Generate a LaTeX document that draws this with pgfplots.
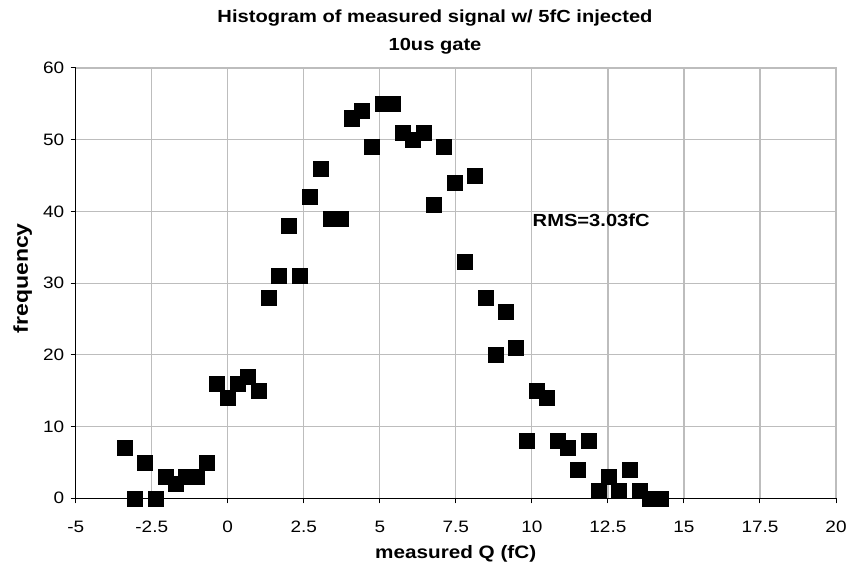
\documentclass[border=0pt]{standalone}
\usepackage{fontspec}
\setmainfont{Liberation Sans}
\newfontfamily\wfont[FakeStretch=1.15]{Liberation Sans}
\usepackage{pgfplots}
\pgfplotsset{compat=1.18}
\begin{document}
\begin{tikzpicture}
\useasboundingbox (-75.7pt,-74.7pt) rectangle (773.3pt,498.3pt);
\begin{axis}[
  scale only axis,
  width=760.3pt, height=430.3pt,
  at={(0,0)}, anchor=south west,
  xmin=-5, xmax=20, ymin=0, ymax=60,
  xtick={-5,-2.5,0,2.5,5,7.5,10,12.5,15,17.5,20},
  xticklabels={-5,-2.5,0,2.5,5,7.5,10,12.5,15,17.5,20},
  ytick={0,10,20,30,40,50,60},
  axis x line*=bottom, axis y line*=left,
  axis line style={black, line width=1pt, -},
  grid=major,
  major grid style={color=black!26, line width=1.2pt},
  tick style={black, line width=1pt},
  tick align=outside,
  major tick length=5pt,
  /pgf/number format/assume math mode=true,
  tick label style={font=\wfont\fontsize{16.5}{18}\selectfont},
  xticklabel style={yshift=-14pt},
  yticklabel style={xshift=-3pt},
  clip=false,
]
\draw[black!26, line width=1.2pt] (axis cs:-5,60) -- (axis cs:20,60) -- (axis cs:20,0);
\addplot[only marks, mark=square*, mark size=7.5pt,
  mark options={fill=black, draw=black, rounded corners=2pt}] coordinates {
(-3.40,7) (-3.06,0) (-2.72,5) (-2.38,0) (-2.04,3) (-1.71,2) (-1.37,3) (-1.03,3)
(-0.69,5) (-0.35,16) (-0.01,14) (0.33,16) (0.67,17) (1.01,15) (1.35,28) (1.69,31)
(2.02,38) (2.36,31) (2.70,42) (3.04,46) (3.38,39) (3.72,39) (4.06,53) (4.40,54)
(4.74,49) (5.08,55) (5.41,55) (5.75,51) (6.09,50) (6.43,51) (6.77,41) (7.11,49)
(7.45,44) (7.79,33) (8.13,45) (8.47,28) (8.80,20) (9.14,26) (9.48,21) (9.82,8)
(10.16,15) (10.50,14) (10.84,8) (11.18,7) (11.52,4) (11.86,8) (12.19,1) (12.53,3)
(12.87,1) (13.21,4) (13.55,1) (13.89,0) (14.23,0)
};
\node[font=\wfont\bfseries\fontsize{17.5}{18}\selectfont] at (axis cs:11.95,38.7) {RMS=3.03fC};
\end{axis}
\node[font=\wfont\bfseries\fontsize{17.5}{28}\selectfont, align=center] at (359.3pt,466.3pt) {Histogram of measured signal w/ 5fC injected\\10us gate};
\node[font=\wfont\bfseries\fontsize{18}{18}\selectfont] at (380pt,-56pt) {measured Q (fC)};
\node[font=\wfont\bfseries\fontsize{20}{20}\selectfont, rotate=90] at (-53pt,220pt) {frequency};
\end{tikzpicture}
\end{document}
